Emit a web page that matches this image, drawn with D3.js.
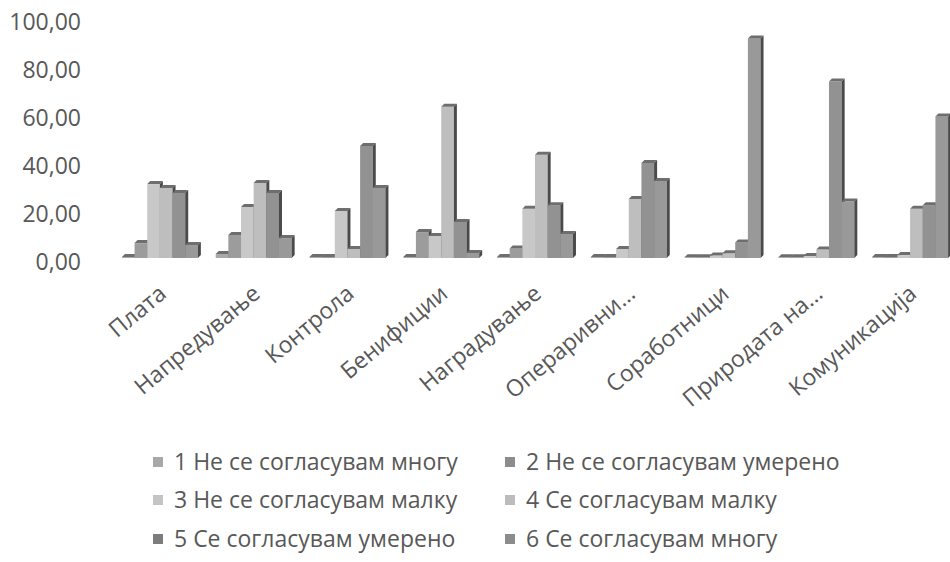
<!DOCTYPE html>
<html>
<head>
<meta charset="utf-8">
<script src="https://cdn.jsdelivr.net/npm/d3@7/dist/d3.min.js"></script>
<style>
  html, body { margin: 0; padding: 0; background: #fff; }
  svg { display: block; }
  text { font-family: "Open Sans", "DejaVu Sans", sans-serif; fill: #585858; }
</style>
</head>
<body>
<svg id="chart" width="950" height="562"></svg>
<script>
// Categories (x axis)
const categories = ["Плата", "Напредување", "Контрола", "Бенифиции", "Наградување",
  "Операривни…", "Соработници", "Природата на…", "Комуникација"];

// Series names (legend)
const seriesNames = [
  "1 Не се согласувам многу", "2 Не се согласувам умерено",
  "3 Не се согласувам малку", "4 Се согласувам малку",
  "5 Се согласувам умерено", "6 Се согласувам многу"
];

// Values (%) for each answer, one entry per category
const s1 = [0.4, 1.7, 0.4, 0.4, 0.4, 0.4, 0.3, 0.3, 0.4];
const s2 = [6.2, 9.6, 0.4, 10.8, 4.0, 0.4, 0.3, 0.3, 0.4];
const s3 = [30.8, 21.3, 19.6, 9.2, 20.5, 3.8, 1.0, 0.8, 1.2];
const s4 = [29.2, 31.3, 3.8, 63.0, 43.0, 24.6, 2.0, 3.5, 20.5];
const s5 = [27.1, 27.1, 46.7, 15.0, 22.0, 39.6, 6.5, 73.5, 22.0];
const s6 = [5.4, 8.3, 29.2, 2.1, 10.0, 32.1, 91.5, 23.5, 59.0];

// Y axis ticks
const yTicks = [0, 20, 40, 60, 80, 100];

const seriesValues = [s1, s2, s3, s4, s5, s6];
const colors = ["#a9a9a9", "#9c9c9c", "#c8c8c8", "#bebebe", "#929292", "#999999"];
const swatchColors = ["#a8a8a8", "#8c8c8c", "#c4c4c4", "#bcbcbc", "#7c7c7c", "#8c8c8c"];

const svg = d3.select("#chart");
svg.append("rect").attr("width", 950).attr("height", 562).attr("fill", "#fff");

const y = d3.scaleLinear().domain([0, 100]).range([258, 18]);
const x0 = d3.scaleBand().domain(categories).range([113, 957])
  .paddingInner(0.19).paddingOuter(0.095);
const x1 = d3.scaleBand().domain(d3.range(seriesValues.length)).range([0, x0.bandwidth()]);

// Y axis (labels only)
const fmt = v => d3.format(".2f")(v).replace(".", ",");
const yAxis = svg.append("g")
  .attr("transform", "translate(81,4)")
  .call(d3.axisLeft(y).tickValues(yTicks).tickFormat(fmt).tickSize(0).tickPadding(0));
yAxis.select(".domain").remove();
yAxis.selectAll("text")
  .style("font-family", "'Open Sans', sans-serif")
  .style("font-size", "23px")
  .attr("fill", "#585858");

// 3D-style columns: front face, top face, right side face
const depth = 3;
const bars = [];
categories.forEach((c, ci) => {
  seriesValues.forEach((arr, si) => {
    bars.push({ cat: c, si, v: arr[ci] });
  });
});

const g = svg.append("g");
const barG = g.selectAll("g.bar").data(bars).join("g").attr("class", "bar");
barG.each(function (d) {
  const sel = d3.select(this);
  const xl = x0(d.cat) + x1(d.si);
  const w = x1.bandwidth();
  const yt = y(d.v);
  const yb = y(0);
  sel.append("rect")
    .attr("x", xl).attr("y", yt)
    .attr("width", w).attr("height", Math.max(0.5, yb - yt))
    .attr("fill", colors[d.si]);
  sel.append("polygon")
    .attr("points", [[xl, yt], [xl + depth, yt - depth], [xl + w + depth, yt - depth], [xl + w, yt]].join(" "))
    .attr("fill", "#6e6e6e");
  sel.append("polygon")
    .attr("points", [[xl + w, yt], [xl + w + depth, yt - depth], [xl + w + depth, yb - depth], [xl + w, yb]].join(" "))
    .attr("fill", "#4a4a4a");
});

// Category labels, rotated
svg.append("g").selectAll("text").data(categories).join("text")
  .attr("transform", d => `translate(${x0(d) + x0.bandwidth() / 2 + 8},${296}) rotate(-40)`)
  .attr("text-anchor", "end")
  .style("font-size", "23px")
  .text(d => d);

// Legend: two columns, three rows
const legendX = [153, 505];
const legendY = [462, 500, 539];
const legend = svg.append("g").selectAll("g").data(seriesNames).join("g")
  .attr("transform", (d, i) => `translate(${legendX[i % 2]},${legendY[Math.floor(i / 2)]})`);
legend.append("rect")
  .attr("x", 0).attr("y", -5).attr("width", 10).attr("height", 10)
  .attr("fill", (d, i) => swatchColors[i]);
legend.append("text")
  .attr("x", 21).attr("dy", "0.35em")
  .style("font-size", "23px")
  .text(d => d);
</script>
</body>
</html>
